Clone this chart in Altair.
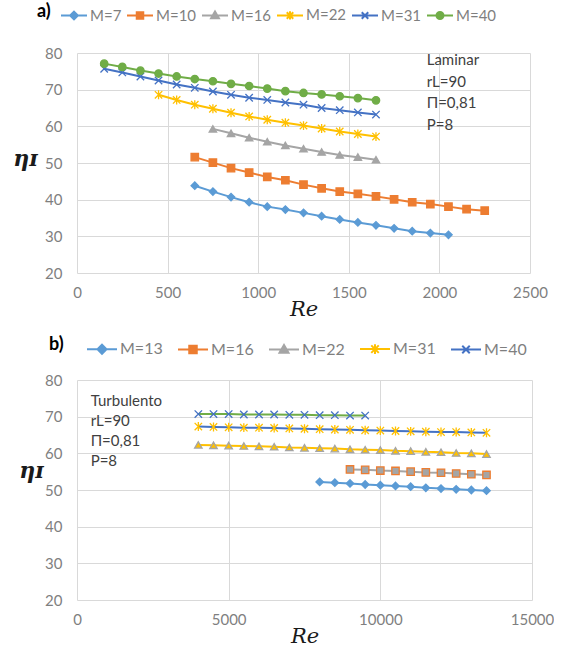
import altair as alt
import pandas as pd

# ---------------- Panel a (laminar) ----------------
a_series = ["M=7", "M=10", "M=16", "M=22", "M=31", "M=40"]
a_re_m7 = [650, 750, 850, 950, 1050, 1150, 1250, 1350, 1450, 1550, 1650, 1750, 1850, 1950, 2050]
a_eta_m7 = [43.8, 42.2, 40.7, 39.3, 38.1, 37.3, 36.4, 35.5, 34.6, 33.8, 33.0, 32.2, 31.4, 30.9, 30.4]
a_re_m10 = [650, 750, 850, 950, 1050, 1150, 1250, 1350, 1450, 1550, 1650, 1750, 1850, 1950, 2050, 2150, 2250]
a_eta_m10 = [51.6, 50.1, 48.6, 47.4, 46.2, 45.3, 44.1, 43.1, 42.2, 41.6, 40.9, 40.1, 39.3, 38.8, 38.1, 37.4, 37.0]
a_re_m16 = [750, 850, 950, 1050, 1150, 1250, 1350, 1450, 1550, 1650]
a_eta_m16 = [59.3, 58.1, 56.9, 55.8, 54.8, 53.9, 53.0, 52.2, 51.6, 50.9]
a_re_m22 = [450, 550, 650, 750, 850, 950, 1050, 1150, 1250, 1350, 1450, 1550, 1650]
a_eta_m22 = [68.6, 67.2, 65.9, 64.8, 63.7, 62.7, 61.8, 61.0, 60.2, 59.4, 58.6, 57.9, 57.2]
a_re_m31 = [150, 250, 350, 450, 550, 650, 750, 850, 950, 1050, 1150, 1250, 1350, 1450, 1550, 1650]
a_eta_m31 = [75.7, 74.7, 73.6, 72.5, 71.4, 70.5, 69.5, 68.6, 67.8, 67.2, 66.5, 65.9, 65.0, 64.4, 63.8, 63.2]
a_re_m40 = [150, 250, 350, 450, 550, 650, 750, 850, 950, 1050, 1150, 1250, 1350, 1450, 1550, 1650]
a_eta_m40 = [77.1, 76.2, 75.2, 74.4, 73.6, 72.9, 72.3, 71.6, 71.0, 70.3, 69.6, 69.1, 68.7, 68.2, 67.7, 67.1]
a_note = "Laminar\nrL=90\nΠ=0,81\nP=8"

# ---------------- Panel b (turbulent) ----------------
b_series = ["M=13", "M=16", "M=22", "M=31", "M=40"]
b_re_m13 = [8000, 8500, 9000, 9500, 10000, 10500, 11000, 11500, 12000, 12500, 13000, 13500]
b_eta_m13 = [52.2, 52.0, 51.8, 51.5, 51.3, 51.1, 50.9, 50.6, 50.4, 50.2, 50.0, 49.8]
b_re_m16 = [9000, 9500, 10000, 10500, 11000, 11500, 12000, 12500, 13000, 13500]
b_eta_m16 = [55.6, 55.5, 55.3, 55.2, 55.0, 54.8, 54.7, 54.5, 54.3, 54.1]
b_re_m22 = [4000, 4500, 5000, 5500, 6000, 6500, 7000, 7500, 8000, 8500,
            9000, 9500, 10000, 10500, 11000, 11500, 12000, 12500, 13000, 13500]
b_eta_m22 = [62.3, 62.2, 62.1, 62.0, 61.9, 61.8, 61.6, 61.5, 61.4, 61.3,
             61.1, 61.0, 60.9, 60.7, 60.6, 60.4, 60.3, 60.1, 60.0, 59.8]
b_re_m31 = [4000, 4500, 5000, 5500, 6000, 6500, 7000, 7500, 8000, 8500,
            9000, 9500, 10000, 10500, 11000, 11500, 12000, 12500, 13000, 13500]
b_eta_m31 = [67.3, 67.2, 67.1, 67.0, 67.0, 66.9, 66.8, 66.7, 66.6, 66.5,
             66.4, 66.3, 66.2, 66.1, 66.0, 65.9, 65.8, 65.8, 65.7, 65.6]
b_re_m40 = [4000, 4500, 5000, 5500, 6000, 6500, 7000, 7500, 8000, 8500, 9000, 9500]
b_eta_m40 = [70.7, 70.7, 70.7, 70.6, 70.6, 70.6, 70.5, 70.5, 70.4, 70.4, 70.3, 70.3]
b_note = "Turbulento\nrL=90\nΠ=0,81\nP=8"

y_ticks = [20, 30, 40, 50, 60, 70, 80]
a_x_ticks = [0, 500, 1000, 1500, 2000, 2500]
b_x_ticks = [0, 5000, 10000, 15000]

# ---------------- styles ----------------
PALETTE = ["#5B9BD5", "#ED7D31", "#A5A5A5", "#FFC000", "#4472C4", "#70AD47"]
STAR = "M-1,-1L1,1M-1,1L1,-1M0,-1.2L0,1.2"
XMK = "M-1,-1L1,1M-1,1L1,-1"
MARKERS = ["diamond", "square", "triangle-up", STAR, XMK, "circle"]
LINE = "M-1,0L1,0"
LEG_SYMS = [
    LINE + "M0,-0.3L0.3,0L0,0.3L-0.3,0Z",
    LINE + "M-0.25,-0.25L0.25,-0.25L0.25,0.25L-0.25,0.25Z",
    LINE + "M0,-0.3L0.3,0.22L-0.3,0.22Z",
    LINE + "M-0.25,-0.25L0.25,0.25M-0.25,0.25L0.25,-0.25M0,-0.32L0,0.32",
    LINE + "M-0.25,-0.25L0.25,0.25M-0.25,0.25L0.25,-0.25",
    LINE + "M0.27,0A0.27,0.27,0,1,1,-0.27,0A0.27,0.27,0,1,1,0.27,0Z",
]


def long_df(series, res, etas):
    rows = []
    for name, rr, ee in zip(series, res, etas):
        for r, e in zip(rr, ee):
            rows.append({"series": name, "Re": r, "eta": e})
    return pd.DataFrame(rows)


def panel(df, series, tag, xdom, xticks, note, note_x, note_y, line_h,
          leg_x, leg_y, leg_pad, sym_size, col_pad, leg_font, ytx, yty, width, height):
    n = len(series)
    colors = PALETTE[:n]
    shapes = MARKERS[:n]
    lsyms = LEG_SYMS[:n]
    x = alt.X("Re:Q", scale=alt.Scale(domain=xdom, nice=False, zero=False),
              axis=alt.Axis(values=xticks, format="d", title="Re", titleFont="DejaVu Serif",
                            titleFontStyle="italic", titleFontWeight="normal",
                            titleFontSize=21, titleColor="#1a1a1a", titleY=36,
                            titleBaseline="middle", labelPadding=12, labelFlush=False,
                            grid=True, labelOverlap=False))
    y = alt.Y("eta:Q", scale=alt.Scale(domain=[20, 80], nice=False, zero=False),
              axis=alt.Axis(values=y_ticks, title="ηɪ", titleFont="DejaVu Serif",
                            titleFontStyle="italic", titleFontWeight="bold",
                            titleFontSize=22, titleColor="#1a1a1a", titleAngle=0,
                            titleX=ytx, titleY=yty, titleAlign="center",
                            titleBaseline="middle", labelPadding=15, labelFlush=False,
                            grid=True, labelOverlap=False))
    cscale = alt.Scale(domain=series, range=colors)
    base = alt.Chart(df)
    leg = alt.Legend(title=tag, orient="none", legendX=leg_x, legendY=leg_y,
                     direction="horizontal", titleOrient="left",
                     titleFont="Lato", titleFontSize=18, titleFontWeight="bold",
                     titleColor="#000000", titlePadding=leg_pad, titleBaseline="middle",
                     titleAnchor="middle",
                     labelFont="Lato", labelFontSize=leg_font, labelColor="#7f7f7f",
                     symbolSize=sym_size, symbolStrokeWidth=2, labelOffset=2,
                     columnPadding=col_pad)
    legend_layer = base.transform_filter("datum.Re < 0").mark_point(
        filled=True, size=sym_size, strokeWidth=2, opacity=1).encode(
        x=x, y=y,
        fill=alt.Fill("series:N", scale=cscale, legend=leg),
        stroke=alt.Stroke("series:N", scale=cscale, legend=leg),
        shape=alt.Shape("series:N", scale=alt.Scale(domain=series, range=lsyms), legend=leg),
    )
    lines = base.mark_line(strokeWidth=2).encode(
        x=x, y=y, color=alt.Color("series:N", scale=cscale, legend=None))
    pts = base.mark_point(filled=True, size=55, strokeWidth=1.3, opacity=1).encode(
        x=x, y=y,
        color=alt.Color("series:N", scale=cscale, legend=None),
        stroke=alt.Stroke("series:N", scale=cscale, legend=None),
        shape=alt.Shape("series:N", scale=alt.Scale(domain=series, range=shapes), legend=None),
    )
    note_df = pd.DataFrame({"Re": [note_x], "eta": [note_y], "t": [note]})
    text = alt.Chart(note_df).mark_text(
        align="left", baseline="top", lineBreak="\n", lineHeight=line_h,
        font="Lato", fontSize=15, color="#404040").encode(
        x=x, y=y, text="t:N")
    return alt.layer(legend_layer, lines, pts, text).resolve_scale(
        fill="independent", stroke="independent", shape="independent"
    ).properties(width=width, height=height)


df_a = long_df(a_series,
               [a_re_m7, a_re_m10, a_re_m16, a_re_m22, a_re_m31, a_re_m40],
               [a_eta_m7, a_eta_m10, a_eta_m16, a_eta_m22, a_eta_m31, a_eta_m40])
df_b = long_df(b_series,
               [b_re_m13, b_re_m16, b_re_m22, b_re_m31, b_re_m40],
               [b_eta_m13, b_eta_m16, b_eta_m22, b_eta_m31, b_eta_m40])

chart_a = panel(df_a, a_series, "a)", [0, 2500], a_x_ticks, a_note, 1930, 80.0, 21.5,
                -40, -52, 9, 676, 1, 15, -52, 105, 453, 220)
chart_b = panel(df_b, b_series, "b)", [0, 15000], b_x_ticks, b_note, 450, 76.1, 20,
                -28, -47, 22, 900, 11, 16, -46, 90, 455, 220)

chart = alt.vconcat(chart_a, chart_b, spacing=107, bounds="flush").properties(
    padding={"left": 12, "top": 1, "right": 0, "bottom": 0}
).configure_view(stroke=None).configure_axis(
    grid=True, gridColor="#d9d9d9", gridWidth=1, domain=False, ticks=False,
    tickSize=0, labelFont="Lato", labelFontSize=15, labelColor="#7f7f7f"
)

chart.save("out.html", embed_options={"renderer": "svg", "actions": False})
